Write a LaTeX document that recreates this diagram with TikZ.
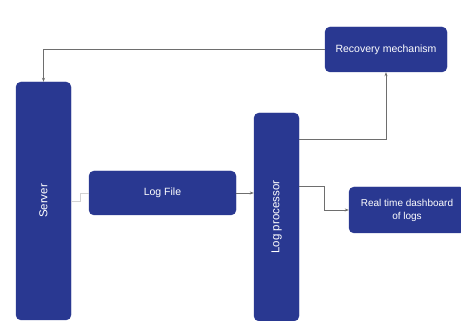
\documentclass[tikz,border=0pt]{standalone}
\usepackage{fontspec}
\setmainfont{Liberation Sans}
\usepackage{tikz}
\usetikzlibrary{arrows.meta}
\definecolor{boxblue}{RGB}{41, 56, 145}
\definecolor{linegray}{RGB}{110, 110, 110}

\begin{document}
\begin{tikzpicture}[x=1pt, y=1pt,
    blockbox/.style={draw=boxblue, fill=boxblue, rounded corners=5pt, text=white, font=\fontsize{10.5}{12.5}\selectfont, align=center, inner sep=0pt},
    sidelabel/.style={text=white, rotate=90, font=\fontsize{11.5}{13}\selectfont},
    link/.style={linegray, line width=0.6pt, -{Stealth[length=4pt, width=3pt]}}]
            \useasboundingbox (0,0) rectangle (461,321);

            % Server box
            \node[blockbox, minimum width=55, minimum height=238] (server) at (43.5,120) {};
            \node[sidelabel] (serverlabel) at (server.center) {Server};

            % Log file box
            \node[blockbox, minimum width=147, minimum height=44] (logfile) at (162.5,128) {Log File};

            % Log processor box
            \node[blockbox, minimum width=45, minimum height=208] (logproc) at (276.5,104) {};
            \node[sidelabel] (proclabel) at (logproc.center) {Log processor};

            % Recovery box
            \node[blockbox, minimum width=122, minimum height=45] (recovery) at (386,271.5) {Recovery mechanism};

            % Dashboard box
            \node[blockbox, minimum width=116, minimum height=46, font=\fontsize{10}{13}\selectfont] (dashboard) at (407,111) {Real time dashboard\\of logs};

            % Connectors
            \draw[gray!35, line width=0.6pt] (server.east) -- ++(9,0) |- (logfile.west);
            \draw[link] (logfile.east) -- (logproc.west |- logfile.east);
            \draw[link] ([yshift=-27pt]logproc.north east) -| (recovery.south);
            \draw[link] (recovery.west) -| (server.north);
            \draw[link] ([yshift=-74pt]logproc.north east) -- ++(25,0) |- (dashboard.west);
        \end{tikzpicture}
\end{document}
